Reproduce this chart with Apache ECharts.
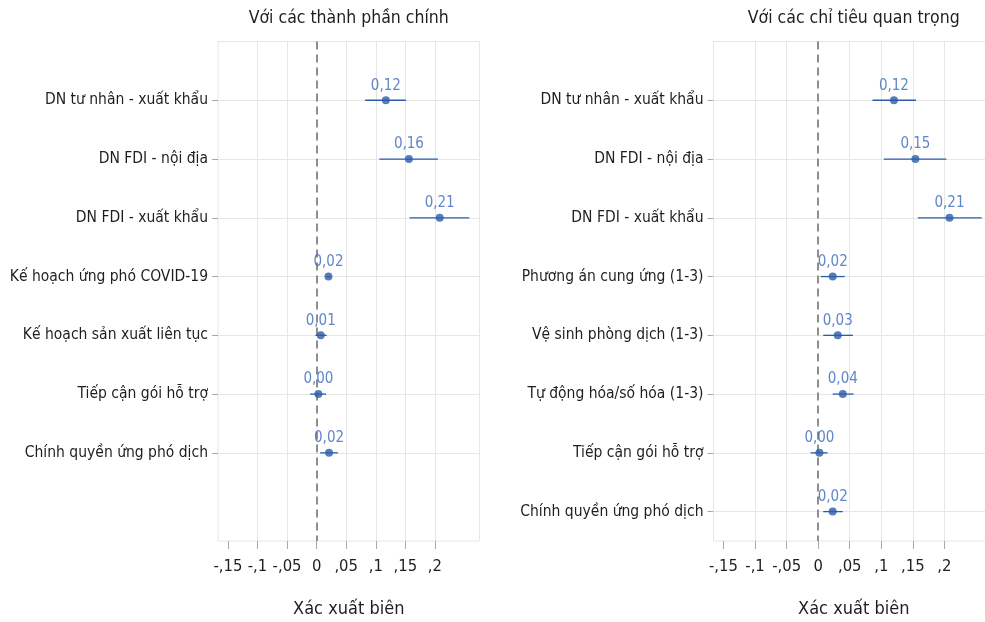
<!DOCTYPE html>
<html>
<head>
<meta charset="utf-8">
<script src="https://cdn.jsdelivr.net/npm/echarts@6/dist/echarts.min.js"></script>
<style>
  html, body { margin: 0; padding: 0; background: #fff; }
  #chart { width: 985px; height: 622px; }
</style>
</head>
<body>
<div id="chart"></div>
<script>
// Marginal probabilities with confidence intervals, two model specifications

// Panel 1: main components
const catsMain = [
  'DN tư nhân - xuất khẩu',
  'DN FDI - nội địa',
  'DN FDI - xuất khẩu',
  'Kế hoạch ứng phó COVID-19',
  'Kế hoạch sản xuất liên tục',
  'Tiếp cận gói hỗ trợ',
  'Chính quyền ứng phó dịch'
];
const estMain = [0.117, 0.156, 0.208, 0.020, 0.007, 0.003, 0.021];
const loMain  = [0.082, 0.106, 0.157, 0.016, -0.002, -0.011, 0.006];
const hiMain  = [0.151, 0.205, 0.258, 0.024, 0.017, 0.016, 0.036];

// Panel 2: key indicators
const catsKey = [
  'DN tư nhân - xuất khẩu',
  'DN FDI - nội địa',
  'DN FDI - xuất khẩu',
  'Phương án cung ứng (1-3)',
  'Vệ sinh phòng dịch (1-3)',
  'Tự động hóa/số hóa (1-3)',
  'Tiếp cận gói hỗ trợ',
  'Chính quyền ứng phó dịch'
];
const estKey = [0.120, 0.154, 0.208, 0.023, 0.031, 0.039, 0.002, 0.023];
const loKey  = [0.086, 0.104, 0.158, 0.004, 0.008, 0.023, -0.012, 0.008];
const hiKey  = [0.155, 0.203, 0.259, 0.042, 0.055, 0.056, 0.015, 0.039];

// Axis ticks (Stata-style labels)
const xTickValues = [-0.15, -0.1, -0.05, 0, 0.05, 0.1, 0.15, 0.2];
const xTickLabels = ['-,15', '-,1', '-,05', '0', ',05', ',1', ',15', ',2'];
const xGridValues = [-0.1, -0.05, 0.05, 0.1, 0.15, 0.2];

const panelTitles = ['Với các thành phần chính', 'Với các chỉ tiêu quan trọng'];
const xAxisTitle = 'Xác xuất biên';

const FONT = '"DejaVu Sans Condensed", "DejaVu Sans", sans-serif';
const TEXT = '#1e1e1e';
const MARK = '#2a5ca9';
const LABEL = '#3768ba';
const GRID = '#e6e6e6';

const panels = [
  { cats: catsMain, est: estMain, lo: loMain, hi: hiMain,
    grid: { left: 218, top: 41.5, width: 261.5, height: 499.5 }, xMin: -0.1667, xMax: 0.2753 },
  { cats: catsKey, est: estKey, lo: loKey, hi: hiKey,
    grid: { left: 713.5, top: 41.5, width: 280.5, height: 499.5 }, xMin: -0.1658, xMax: 0.2785 }
];

const option = {
  animation: false,
  backgroundColor: '#ffffff',
  textStyle: { fontFamily: FONT },
  grid: [],
  xAxis: [],
  yAxis: [],
  series: [],
  graphic: []
};

panels.forEach((p, k) => {
  const rows = p.cats.map((_, i) => i + 1);
  option.grid.push(Object.assign({
    show: true, borderColor: GRID, borderWidth: 1, backgroundColor: '#fff',
    containLabel: false, outerBoundsMode: 'none'
  }, p.grid));

  option.xAxis.push({
    type: 'value', gridIndex: k, min: p.xMin, max: p.xMax, position: 'bottom',
    splitLine: { show: false },
    axisLine: { show: false, onZero: false },
    axisTick: { show: true, customValues: xTickValues, length: 8,
      lineStyle: { color: '#a8a8a8', width: 1 } },
    axisLabel: { customValues: xTickValues, margin: 17, fontSize: 16.5, color: TEXT,
      fontFamily: FONT,
      formatter: v => {
        const idx = xTickValues.findIndex(t => Math.abs(t - v) < 1e-9);
        return idx >= 0 ? xTickLabels[idx] : '';
      } },
    name: xAxisTitle, nameLocation: 'middle', nameGap: 59,
    nameTextStyle: { fontSize: 18, color: TEXT, fontFamily: FONT }
  });

  option.yAxis.push({
    type: 'value', gridIndex: k, inverse: true, min: 0, max: 8.5, position: 'left',
    splitLine: { show: false },
    axisLine: { show: false, onZero: false },
    axisTick: { show: true, customValues: rows, length: 6,
      lineStyle: { color: '#a8a8a8', width: 1 } },
    axisLabel: { customValues: rows, margin: 10, fontSize: 15.5, color: TEXT,
      fontFamily: FONT,
      formatter: v => p.cats[Math.round(v) - 1] || '' }
  });

  // Reference grid lines
  option.series.push({
    type: 'line', xAxisIndex: k, yAxisIndex: k, data: [], silent: true, z: 1,
    markLine: {
      silent: true, z: 1, symbol: ['none', 'none'], label: { show: false },
      emphasis: { disabled: true },
      lineStyle: { color: GRID, width: 1, type: 'solid' },
      data: xGridValues.map(v => ({ xAxis: v })).concat(rows.map(r => ({ yAxis: r })))
    }
  });

  // Zero reference line
  option.series.push({
    type: 'line', xAxisIndex: k, yAxisIndex: k, data: [], silent: true, z: 2,
    markLine: {
      silent: true, z: 2, symbol: ['none', 'none'], label: { show: false },
      emphasis: { disabled: true },
      lineStyle: { color: '#8e8e8e', width: 2, type: [8, 5] },
      data: [{ xAxis: 0 }]
    }
  });

  // Confidence intervals
  option.series.push({
    type: 'custom', xAxisIndex: k, yAxisIndex: k, z: 3,
    data: p.cats.map((_, i) => [p.lo[i], p.hi[i], i + 1]),
    encode: { x: [0, 1], y: 2 },
    renderItem: (params, api) => {
      const a = api.coord([api.value(0), api.value(2)]);
      const b = api.coord([api.value(1), api.value(2)]);
      return { type: 'line', shape: { x1: a[0], y1: a[1], x2: b[0], y2: b[1] },
        style: { stroke: MARK, lineWidth: 1.3 } };
    }
  });

  // Point estimates with value labels
  option.series.push({
    type: 'scatter', xAxisIndex: k, yAxisIndex: k, z: 4,
    symbol: 'circle', symbolSize: 8,
    itemStyle: { color: MARK, borderWidth: 0 },
    data: p.cats.map((_, i) => [p.est[i], i + 1]),
    label: {
      show: true, position: 'top', distance: 3, color: LABEL, fontSize: 15,
      fontFamily: FONT,
      formatter: d => d.value[0].toFixed(2).replace('.', ',')
    }
  });

  option.graphic.push({
    type: 'text',
    x: p.grid.left + p.grid.width / 2, y: 18,
    style: { text: panelTitles[k], fontSize: 17.5, fill: TEXT, fontFamily: FONT,
      align: 'center', verticalAlign: 'middle' }
  });
});

const chart = echarts.init(document.getElementById('chart'), null, { renderer: 'canvas' });
chart.setOption(option);
</script>
</body>
</html>
